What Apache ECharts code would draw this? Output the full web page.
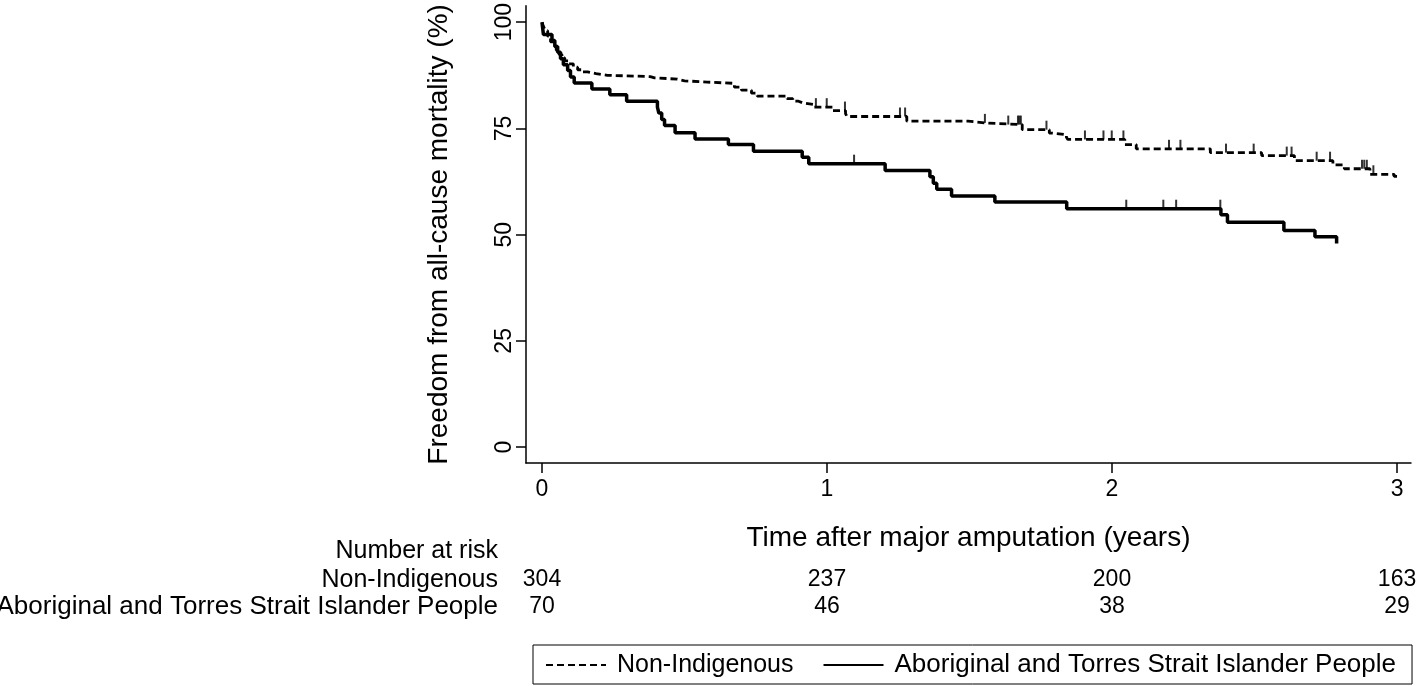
<!DOCTYPE html>
<html>
<head>
<meta charset="utf-8">
<script src="https://cdn.jsdelivr.net/npm/echarts@6/dist/echarts.min.js"></script>
<style>
  html, body { margin: 0; padding: 0; background: #fff; }
  #chart { width: 1418px; height: 686px; }
</style>
</head>
<body>
<div id="chart"></div>
<script>
// ---- Data ----
const timeTicks = [0, 1, 2, 3];
const survTicks = [0, 25, 50, 75, 100];
const seriesNames = ['Non-Indigenous', 'Aboriginal and Torres Strait Islander People'];

// Non-Indigenous KM step curve (time in years, survival %)
const nonIndTimes = [0, 0.005, 0.012, 0.02, 0.03, 0.04, 0.05, 0.06, 0.07, 0.08, 0.095, 0.11, 0.125, 0.14, 0.16, 0.19, 0.23,
  0.38, 0.395, 0.475, 0.5, 0.58, 0.675, 0.70, 0.735, 0.755, 0.86, 0.88, 0.90, 0.915, 0.955, 1.02, 1.065, 1.07,
  1.28, 1.495, 1.555, 1.685, 1.78, 1.79, 1.84, 1.845, 2.045, 2.085, 2.345, 2.525, 2.64, 2.775, 2.815, 2.905, 2.99, 3.0];
const nonIndSurv = [100, 99.0, 98.0, 96.7, 95.4, 94.4, 93.4, 92.4, 91.6, 90.9, 90.2, 89.4, 88.8, 88.3, 87.9, 87.5, 87.2,
  86.9, 86.6, 86.2, 85.9, 85.6, 84.7, 84.0, 83.3, 82.6, 82.0, 81.4, 81.0, 80.6, 80.0, 79.2, 78.5, 77.8,
  76.7, 76.3, 75.9, 74.7, 73.9, 73.5, 72.9, 72.4, 71.2, 70.2, 69.3, 68.6, 67.4, 66.4, 65.5, 64.2, 63.7, 63.7];
const nonIndCensor = [0.961, 0.999, 1.063, 1.256, 1.274, 1.554, 1.636, 1.67, 1.675, 1.68, 1.77, 1.905, 1.97, 1.999, 2.04,
  2.2, 2.24, 2.4, 2.497, 2.613, 2.63, 2.718, 2.765, 2.877, 2.885, 2.894, 2.917];

// Aboriginal and Torres Strait Islander People KM step curve
const aborTimes = [0, 0.005, 0.035, 0.045, 0.055, 0.065, 0.075, 0.09, 0.10, 0.113, 0.175, 0.238, 0.297, 0.405, 0.41, 0.42, 0.43,
  0.467, 0.537, 0.654, 0.742, 0.913, 0.936, 1.204, 1.361, 1.373, 1.385, 1.437, 1.589, 1.841, 2.382, 2.405, 2.603, 2.712, 2.788];
const aborSurv = [100, 97.1, 95.7, 94.3, 92.9, 91.4, 90.0, 88.6, 87.1, 85.7, 84.3, 82.9, 81.4, 80.0, 78.6, 77.1, 75.7,
  74.0, 72.5, 71.2, 69.6, 68.2, 66.7, 65.1, 63.6, 62.1, 60.7, 59.1, 57.7, 56.1, 54.7, 52.9, 51.0, 49.5, 47.9];
const aborCensor = [1.095, 2.05, 2.18, 2.225, 2.38];

// Number at risk
const riskTitle = 'Number at risk';
const riskNonInd = [304, 237, 200, 163];
const riskAbor = [70, 46, 38, 29];

// ---- Helpers ----
const FONT = "'Liberation Sans', Arial, Helvetica, sans-serif";
function pairs(ts, ss) { return ts.map((t, i) => [t, ss[i]]); }
function survAt(ts, ss, t) {
  let v = ss[0];
  for (let i = 0; i < ts.length; i++) { if (ts[i] <= t) v = ss[i]; else break; }
  return v;
}
function censorPts(ts, ss, cs) { return cs.map(t => [t, survAt(ts, ss, t)]); }

const chart = echarts.init(document.getElementById('chart'), null, { renderer: 'canvas' });

const axisLineStyle = { color: '#000', width: 1.5 };

const option = {
  backgroundColor: '#fff',
  animation: false,
  grid: { left: 526, top: 4, width: 885, height: 459 },
  xAxis: {
    type: 'value',
    min: -0.0561, max: 3.049,
    axisLine: { show: true, onZero: false, lineStyle: axisLineStyle },
    axisTick: { show: true, length: 10, lineStyle: axisLineStyle, customValues: timeTicks },
    axisLabel: { customValues: timeTicks, fontSize: 23, color: '#000', fontFamily: FONT, margin: 15 },
    splitLine: { show: false },
    name: 'Time after major amputation (years)',
    nameLocation: 'middle', nameGap: 61,
    nameTextStyle: { fontSize: 28, color: '#000', fontFamily: FONT }
  },
  yAxis: {
    type: 'value',
    min: -3.75, max: 103.87,
    axisLine: { show: true, onZero: false, lineStyle: axisLineStyle },
    axisTick: { show: true, length: 10, lineStyle: axisLineStyle, customValues: survTicks },
    axisLabel: { customValues: survTicks, fontSize: 23, color: '#000', fontFamily: FONT, rotate: 90, margin: 10 },
    splitLine: { show: false },
    name: 'Freedom from all-cause mortality (%)',
    nameLocation: 'middle', nameGap: 73, nameRotate: 90,
    nameTextStyle: { fontSize: 28, color: '#000', fontFamily: FONT }
  },
  legend: {
    data: [
      { name: seriesNames[0], textStyle: { fontSize: 25 } },
      { name: seriesNames[1], textStyle: { fontSize: 26 } }
    ],
    left: 533, top: 645,
    orient: 'horizontal',
    itemWidth: 60, itemHeight: 14, itemGap: 29,
    padding: [7, 16, 6, 12],
    borderColor: '#000', borderWidth: 1, borderRadius: 0,
    itemStyle: { opacity: 0, color: 'rgba(0,0,0,0)', borderWidth: 0 },
    textStyle: { fontSize: 25, color: '#000', fontFamily: FONT, padding: [0, 0, 0, 6] }
  },
  series: [
    {
      name: seriesNames[0], type: 'line', step: 'end', symbol: 'none',
      data: pairs(nonIndTimes, nonIndSurv),
      lineStyle: { color: '#000', width: 2.8, type: [7, 4] },
      itemStyle: { color: '#000' }
    },
    {
      name: seriesNames[1], type: 'line', step: 'end', symbol: 'none',
      data: pairs(aborTimes, aborSurv),
      lineStyle: { color: '#000', width: 3.5, type: 'solid' },
      itemStyle: { color: '#000' }
    },
    {
      name: 'censorNonInd', type: 'scatter', symbol: 'rect', symbolSize: [2, 9], symbolOffset: [0, -4.5],
      data: censorPts(nonIndTimes, nonIndSurv, nonIndCensor),
      itemStyle: { color: '#000' }, silent: true
    },
    {
      name: 'censorAbor', type: 'scatter', symbol: 'rect', symbolSize: [2, 9], symbolOffset: [0, -4.5],
      data: censorPts(aborTimes, aborSurv, aborCensor),
      itemStyle: { color: '#000' }, silent: true
    }
  ]
};

chart.setOption(option);

// Number-at-risk table positioned via the x axis scale
function txt(text, x, y, align, size) {
  return {
    type: 'text', x: x, y: y, silent: true,
    style: {
      text: String(text), fill: '#000',
      font: size + 'px ' + FONT,
      fontSize: size, fontFamily: FONT,
      align: align, textAlign: align,
      verticalAlign: 'middle', textVerticalAlign: 'middle'
    }
  };
}
const labelRight = 498;
const rowY = [551, 580, 607];
const els = [];
els.push(txt(riskTitle, labelRight, rowY[0], 'right', 25));
els.push(txt(seriesNames[0], labelRight, rowY[1], 'right', 25));
els.push(txt(seriesNames[1], labelRight, rowY[2], 'right', 26));
timeTicks.forEach((t, i) => {
  const px = chart.convertToPixel({ xAxisIndex: 0 }, t);
  els.push(txt(riskNonInd[i], px, rowY[1], 'center', 23));
  els.push(txt(riskAbor[i], px, rowY[2], 'center', 23));
});
chart.setOption({ graphic: { elements: els } });
</script>
</body>
</html>
